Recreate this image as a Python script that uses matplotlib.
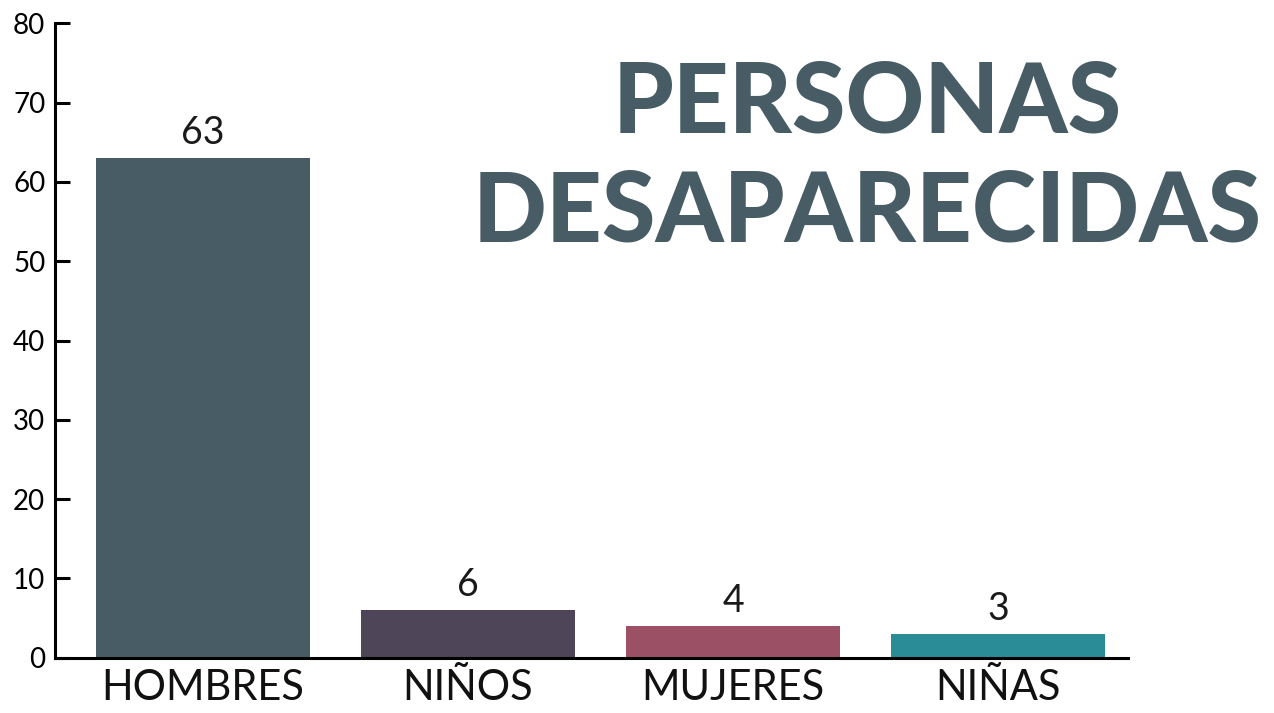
import matplotlib
matplotlib.use("Agg")
import matplotlib.pyplot as plt

categories = ["HOMBRES", "NIÑOS", "MUJERES", "NIÑAS"]
values = [63, 6, 4, 3]
bar_colors = ["#475c65", "#4e4558", "#9b5066", "#2a8c97"]
yticks = [0, 10, 20, 30, 40, 50, 60, 70, 80]
title_lines = ["PERSONAS", "DESAPARECIDAS"]

plt.rcParams['font.family'] = ['Lato', 'DejaVu Sans']

fig = plt.figure(figsize=(12.74, 7.13), dpi=100)
ax = fig.add_axes([55 / 1274, 1 - 657.7 / 713, (1128 - 55) / 1274, (657.7 - 23.3) / 713])

x = list(range(len(categories)))
bars = ax.bar(x, values, width=0.806, color=bar_colors, zorder=1)

for xi, v in zip(x, values):
    ax.annotate(str(v), (xi, v), xytext=(0, 5), textcoords='offset points',
                ha='center', va='bottom', fontsize=27, fontweight='normal', color='#1a1a1a')

ax.set_xlim(-0.558, 3.49)
ax.set_ylim(0, 80)
ax.set_yticks(yticks)
ax.set_xticks(x)
ax.set_xticklabels(categories, fontsize=30, fontweight='normal', color='#111111')
ax.tick_params(axis='x', length=0, pad=8)
ax.tick_params(axis='y', direction='in', length=11, width=2.2, labelsize=20, pad=7)

for side in ['top', 'right']:
    ax.spines[side].set_visible(False)
for side in ['left', 'bottom']:
    ax.spines[side].set_linewidth(2.2)
    ax.spines[side].set_zorder(3)

fig.text(867 / 1274, 1 - 104 / 713, title_lines[0], ha='center', va='center',
         fontsize=70, fontweight='black', color='#475c65')
fig.text(867 / 1274, 1 - 213 / 713, title_lines[1], ha='center', va='center',
         fontsize=70, fontweight='black', color='#475c65')

fig.savefig("out.png", dpi=100)
